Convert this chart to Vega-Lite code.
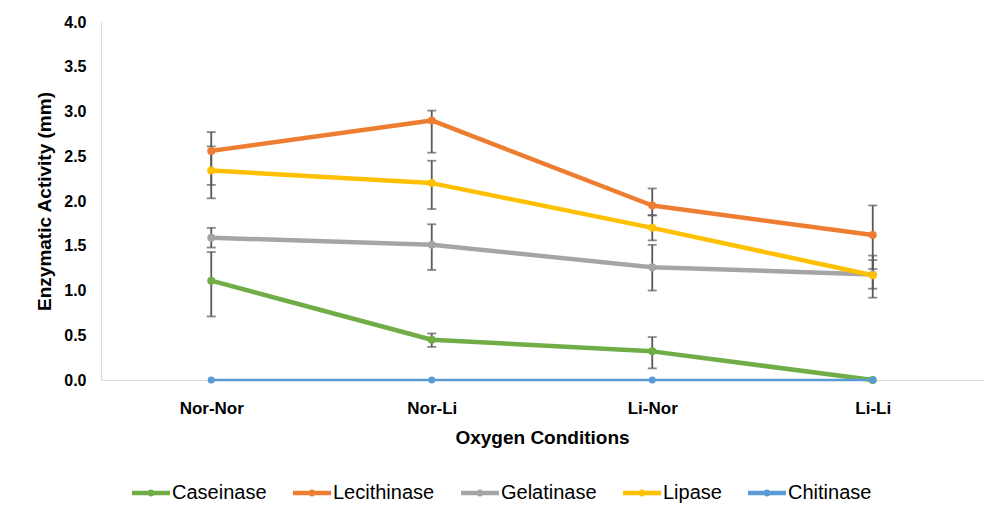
{
  "$schema": "https://vega.github.io/schema/vega-lite/v6.json",
  "autosize": {"type": "none"},
  "padding": {"left": 101, "top": 22, "right": 6, "bottom": 132},
  "width": 882,
  "height": 358,
  "background": "white",
  "config": {
    "view": {"stroke": null},
    "font": "Liberation Sans",
    "axis": {"grid": false, "ticks": false, "tickSize": 0, "domainColor": "#d9d9d9", "domainWidth": 1.2, "labelColor": "#000000", "titleColor": "#000000", "labelFont": "Liberation Sans", "titleFont": "Liberation Sans"}
  },
  "data": {
    "values": [
      {"series": "Caseinase", "cond": "Nor-Nor", "value": 1.11, "lo": 0.71, "hi": 1.43},
      {"series": "Caseinase", "cond": "Nor-Li", "value": 0.45, "lo": 0.37, "hi": 0.52},
      {"series": "Caseinase", "cond": "Li-Nor", "value": 0.32, "lo": 0.13, "hi": 0.48},
      {"series": "Caseinase", "cond": "Li-Li", "value": 0.0, "lo": null, "hi": null},
      {"series": "Lecithinase", "cond": "Nor-Nor", "value": 2.56, "lo": 2.18, "hi": 2.77},
      {"series": "Lecithinase", "cond": "Nor-Li", "value": 2.9, "lo": 2.54, "hi": 3.01},
      {"series": "Lecithinase", "cond": "Li-Nor", "value": 1.95, "lo": 1.84, "hi": 2.14},
      {"series": "Lecithinase", "cond": "Li-Li", "value": 1.62, "lo": 1.24, "hi": 1.95},
      {"series": "Gelatinase", "cond": "Nor-Nor", "value": 1.59, "lo": 1.48, "hi": 1.7},
      {"series": "Gelatinase", "cond": "Nor-Li", "value": 1.51, "lo": 1.23, "hi": 1.74},
      {"series": "Gelatinase", "cond": "Li-Nor", "value": 1.26, "lo": 1.0, "hi": 1.51},
      {"series": "Gelatinase", "cond": "Li-Li", "value": 1.18, "lo": 1.02, "hi": 1.34},
      {"series": "Lipase", "cond": "Nor-Nor", "value": 2.34, "lo": 2.03, "hi": 2.61},
      {"series": "Lipase", "cond": "Nor-Li", "value": 2.2, "lo": 1.91, "hi": 2.45},
      {"series": "Lipase", "cond": "Li-Nor", "value": 1.7, "lo": 1.56, "hi": 1.84},
      {"series": "Lipase", "cond": "Li-Li", "value": 1.17, "lo": 0.92, "hi": 1.39},
      {"series": "Chitinase", "cond": "Nor-Nor", "value": 0.0, "lo": null, "hi": null},
      {"series": "Chitinase", "cond": "Nor-Li", "value": 0.0, "lo": null, "hi": null},
      {"series": "Chitinase", "cond": "Li-Nor", "value": 0.0, "lo": null, "hi": null},
      {"series": "Chitinase", "cond": "Li-Li", "value": 0.0, "lo": null, "hi": null}
    ]
  },
  "encoding": {
    "x": {
      "field": "cond", "type": "ordinal",
      "sort": ["Nor-Nor", "Nor-Li", "Li-Nor", "Li-Li"],
      "scale": {"type": "point", "padding": 0.5},
      "axis": {"title": "Oxygen Conditions", "labelAngle": 0, "labelFontSize": 17, "labelFontWeight": "bold", "labelPadding": 20, "titleFontSize": 19, "titleFontWeight": "bold", "titlePadding": 12}
    }
  },
  "layer": [
    {
      "mark": {"type": "rule", "color": "#595959", "strokeWidth": 1.8},
      "encoding": {
        "y": {"field": "lo", "type": "quantitative"},
        "y2": {"field": "hi"}
      }
    },
    {
      "mark": {"type": "tick", "color": "#595959", "thickness": 1.8, "size": 9, "orient": "horizontal"},
      "encoding": {"y": {"field": "lo", "type": "quantitative"}}
    },
    {
      "mark": {"type": "tick", "color": "#595959", "thickness": 1.8, "size": 9, "orient": "horizontal"},
      "encoding": {"y": {"field": "hi", "type": "quantitative"}}
    },
    {
      "encoding": {
        "y": {
          "field": "value", "type": "quantitative",
          "scale": {"domain": [0, 4]},
          "axis": {"title": "Enzymatic Activity (mm)", "values": [0, 0.5, 1, 1.5, 2, 2.5, 3, 3.5, 4], "format": ".1f", "labelFontSize": 16, "labelFontWeight": "bold", "labelPadding": 15, "titleFontSize": 19, "titleFontWeight": "bold", "titlePadding": 9}
        },
        "color": {
          "field": "series", "type": "nominal",
          "scale": {"domain": ["Caseinase", "Lecithinase", "Gelatinase", "Lipase", "Chitinase"], "range": ["#70ad47", "#ed7d31", "#a5a5a5", "#ffc000", "#5b9bd5"]},
          "legend": {
            "title": null, "orient": "none", "legendX": 31, "legendY": 452, "direction": "horizontal",
            "symbolType": "M-1,-0.12L1,-0.12L1,0.12L-1,0.12Z M-0.19,0A0.19,0.19 0 1,1 0.19,0A0.19,0.19 0 1,1 -0.19,0Z",
            "symbolSize": 1444, "symbolStrokeWidth": 0, "symbolOpacity": 1,
            "labelFontSize": 20, "labelColor": "#000000", "labelOffset": 2, "columnPadding": 26, "labelLimit": 300,
            "encode": {"symbols": {"update": {"fill": {"scale": "color", "field": "value"}, "stroke": {"value": "transparent"}, "opacity": {"value": 1}}}}
          }
        }
      },
      "layer": [
        {
          "mark": {"type": "line", "strokeCap": "round", "strokeJoin": "round"},
          "encoding": {
            "strokeWidth": {"condition": {"test": "datum.series === 'Chitinase'", "value": 2.5}, "value": 4.5}
          }
        },
        {
          "mark": {"type": "point", "filled": true, "opacity": 1},
          "encoding": {
            "size": {"condition": {"test": "datum.series === 'Chitinase'", "value": 50}, "value": 64}
          }
        }
      ]
    }
  ]
}
